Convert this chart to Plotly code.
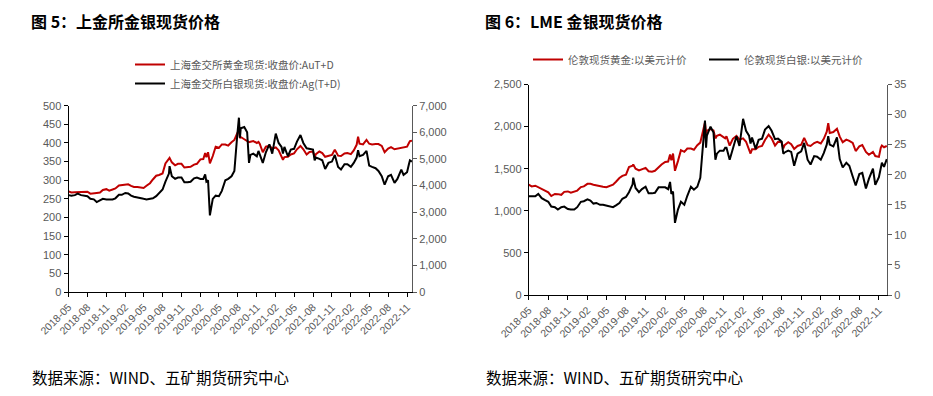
import plotly.graph_objects as go

# browser body has an 8px margin; the figure fills the rest of the 933x396 window
PAGE_W, PAGE_H, OFF = 933, 396, 8
W, H = PAGE_W - OFF, PAGE_H - OFF

dates = [
    "2018-05-01", "2018-05-15", "2018-06-01", "2018-06-15", "2018-07-01", "2018-07-15", "2018-08-01", "2018-08-15",
    "2018-09-01", "2018-09-15", "2018-10-01", "2018-10-15", "2018-11-01", "2018-11-15", "2018-12-01", "2018-12-15",
    "2019-01-01", "2019-01-15", "2019-02-01", "2019-02-15", "2019-03-01", "2019-03-15", "2019-04-01", "2019-04-15",
    "2019-05-01", "2019-05-15", "2019-06-01", "2019-06-15", "2019-07-01", "2019-07-15", "2019-08-01", "2019-08-15",
    "2019-09-01", "2019-09-04", "2019-09-15", "2019-10-01", "2019-10-15", "2019-11-01", "2019-11-15", "2019-12-01",
    "2019-12-15",
    "2020-01-01", "2020-01-15", "2020-02-01", "2020-02-15", "2020-02-24", "2020-03-01", "2020-03-09", "2020-03-18",
    "2020-04-01", "2020-04-15", "2020-05-01", "2020-05-15", "2020-06-01", "2020-06-15", "2020-07-01", "2020-07-15",
    "2020-07-28", "2020-08-06", "2020-08-11", "2020-08-15", "2020-09-01", "2020-09-15", "2020-09-24", "2020-10-01",
    "2020-10-15", "2020-11-01", "2020-11-09", "2020-11-15", "2020-11-30", "2020-12-15",
    "2021-01-01", "2021-01-15", "2021-02-01", "2021-02-15", "2021-03-01", "2021-03-08", "2021-03-15", "2021-04-01",
    "2021-04-15", "2021-05-01", "2021-05-15", "2021-06-01", "2021-06-15", "2021-07-01", "2021-07-15", "2021-08-01",
    "2021-08-09", "2021-08-15", "2021-09-01", "2021-09-15", "2021-09-29", "2021-10-15", "2021-11-01", "2021-11-15",
    "2021-12-01", "2021-12-15",
    "2022-01-01", "2022-01-15", "2022-02-01", "2022-02-15", "2022-03-01", "2022-03-08", "2022-03-15", "2022-04-01",
    "2022-04-18", "2022-05-01", "2022-05-15", "2022-06-01", "2022-06-15", "2022-07-01", "2022-07-15", "2022-08-01",
    "2022-08-15", "2022-09-01", "2022-09-15", "2022-10-04", "2022-10-15", "2022-11-01", "2022-11-10", "2022-11-15",
    "2022-11-25",
]
dates_lme = dates + ["2022-12-08"]

# 上海金交所黄金现货:收盘价:AuT+D (元/克)
sge_gold = [
    270, 267, 268, 268, 267, 268, 269, 264, 266, 266, 267, 274, 276, 272, 275, 278,
    286, 287, 290, 289, 285, 282, 282, 280, 279, 285, 292, 302, 312, 314, 318, 345, 356, 360, 348, 340, 344, 344, 334, 335, 336,
    342, 344, 356, 357, 373, 362, 375, 345, 365, 390, 387, 396, 396, 393, 402, 408, 425, 435, 413, 416, 410, 406, 402, 403,
    405, 400, 403, 398, 375, 390,
    392, 385, 388, 380, 362, 355, 362, 363, 369, 372, 383, 392, 383, 369, 376, 377, 362, 370, 377, 373, 363, 366, 368, 382,
    366, 365,
    372, 373, 370, 380, 395, 417, 398, 396, 408, 398, 396, 397, 397, 392, 375, 385, 389, 383, 385, 387, 388, 390, 400, 405,
    406,
]
# 上海金交所白银现货:收盘价:Ag(T+D) (元/千克)
sge_silver = [
    3640, 3620, 3640, 3700, 3640, 3620, 3600, 3500, 3480, 3380, 3450, 3500, 3480, 3470, 3480, 3520,
    3650, 3650, 3720, 3700, 3620, 3580, 3560, 3540, 3500, 3480, 3490, 3520, 3600, 3700, 3850, 4150, 4450, 4730, 4350, 4250,
    4300, 4300, 4120, 4120, 4140,
    4270, 4300, 4250, 4250, 4420, 4150, 4200, 2880, 3500, 3620, 3600, 3800, 4200, 4250, 4350, 4550, 5800, 6550, 5800, 6150,
    6200, 6000, 4850, 5150, 5200, 5100, 5300, 5150, 4850, 5250,
    5550, 5200, 5950, 5600, 5450, 5200, 5450, 5100, 5350, 5380, 5650, 5900, 5600, 5400, 5380, 5350, 4950, 5050, 5000, 4950,
    4620, 4850, 4900, 5150, 4700, 4600,
    4800, 4800, 4700, 4850, 5050, 5330, 5100, 5150, 5300, 4750, 4700, 4650, 4550, 4350, 4030, 4350, 4400, 4100, 4250, 4600,
    4400, 4500, 4800, 4950, 4900,
]
# 伦敦现货黄金:以美元计价
lme_gold = [
    1310, 1290, 1298, 1280, 1250, 1240, 1220, 1175, 1200, 1198, 1190, 1225, 1230, 1215, 1225, 1240,
    1282, 1290, 1320, 1320, 1310, 1300, 1295, 1285, 1280, 1295, 1310, 1345, 1390, 1415, 1430, 1520, 1535, 1550, 1500, 1480,
    1490, 1510, 1470, 1465, 1475,
    1520, 1550, 1580, 1585, 1670, 1600, 1680, 1475, 1590, 1720, 1700, 1740, 1740, 1725, 1780, 1810, 1950, 2050, 1920, 1950,
    1970, 1955, 1860, 1890, 1905, 1880, 1860, 1885, 1775, 1855,
    1890, 1845, 1860, 1820, 1730, 1680, 1730, 1730, 1760, 1770, 1840, 1905, 1860, 1775, 1820, 1815, 1740, 1780, 1815, 1790,
    1735, 1770, 1785, 1865, 1780, 1770,
    1805, 1820, 1800, 1855, 1940, 2040, 1925, 1935, 1975, 1880, 1815, 1845, 1830, 1805, 1710, 1765, 1780, 1700, 1665, 1700,
    1650, 1640, 1750, 1775, 1755,
    1770,
]
# 伦敦现货白银:以美元计价
lme_silver = [
    16.4, 16.4, 16.4, 16.8, 16.1, 15.8, 15.5, 14.7, 14.6, 14.2, 14.6, 14.7, 14.3, 14.2, 14.2, 14.6,
    15.5, 15.6, 15.9, 15.7, 15.2, 15.3, 15.0, 15.0, 14.9, 14.7, 14.6, 14.9, 15.3, 16.0, 16.3, 17.1, 18.4, 19.5, 17.8, 17.1,
    17.6, 18.0, 16.9, 16.9, 17.0,
    17.9, 17.9, 17.9, 17.6, 18.8, 16.8, 17.2, 12.0, 14.2, 15.5, 15.0, 16.5, 18.0, 17.5, 18.0, 19.5, 24.5, 29.0, 24.5, 26.5,
    28.0, 27.0, 22.5, 23.5, 24.0, 24.0, 24.5, 24.5, 22.5, 24.5,
    26.4, 24.8, 29.3, 27.3, 26.5, 25.2, 26.2, 24.3, 25.8, 26.0, 27.5, 28.1, 27.3, 25.9, 26.0, 25.5, 23.5, 23.7, 24.0, 23.8,
    21.5, 23.5, 23.9, 25.3, 22.5, 21.7,
    23.1, 23.0, 22.5, 23.6, 25.0, 26.4, 25.0, 24.7, 26.2, 22.6, 21.2, 22.0, 21.5, 19.7, 18.2, 20.1, 20.3, 17.7, 19.3, 21.0,
    18.3, 19.6, 21.5, 22.0, 21.3,
    22.6,
]

assert len(sge_gold) == len(dates) and len(sge_silver) == len(dates)
assert len(lme_gold) == len(dates_lme) and len(lme_silver) == len(dates_lme)

names = {
    "sge_gold": "上海金交所黄金现货:收盘价:AuT+D",
    "sge_silver": "上海金交所白银现货:收盘价:Ag(T+D)",
    "lme_gold": "伦敦现货黄金:以美元计价",
    "lme_silver": "伦敦现货白银:以美元计价",
}
titles = ["图 5：上金所金银现货价格", "图 6：LME 金银现货价格"]
source = "数据来源：WIND、五矿期货研究中心"

RED = "#C00000"
BLACK = "#000000"
GRAY = "#595959"
CJK = "Noto Sans CJK SC, Noto Sans, sans-serif"
NUM = "Liberation Sans Narrow, Liberation Sans, Arial, sans-serif"


def px(x):
    """page pixel x -> paper fraction"""
    return (x - OFF) / W


def py(y):
    """page pixel y -> paper fraction"""
    return 1 - (y - OFF) / H


fig = go.Figure()
fig.add_trace(go.Scatter(x=dates, y=sge_gold, name=names["sge_gold"], mode="lines",
                         line=dict(color=RED, width=2), xaxis="x", yaxis="y", legend="legend"))
fig.add_trace(go.Scatter(x=dates, y=sge_silver, name=names["sge_silver"], mode="lines",
                         line=dict(color=BLACK, width=2), xaxis="x", yaxis="y2", legend="legend"))
fig.add_trace(go.Scatter(x=dates_lme, y=lme_gold, name=names["lme_gold"], mode="lines",
                         line=dict(color=RED, width=2), xaxis="x2", yaxis="y3", legend="legend2"))
fig.add_trace(go.Scatter(x=dates_lme, y=lme_silver, name=names["lme_silver"], mode="lines",
                         line=dict(color=BLACK, width=2), xaxis="x2", yaxis="y4", legend="legend2"))

xcommon = dict(type="date", tick0="2018-05-01", dtick="M3", tickformat="%Y-%m", tickangle=-45,
               showline=True, linecolor=BLACK, linewidth=1, ticks="outside", ticklen=4, tickcolor=BLACK,
               showgrid=False, zeroline=False, tickfont=dict(size=10.5, color=GRAY, family=NUM),
               fixedrange=True, automargin=False)
ycommon = dict(showline=True, linewidth=1, ticks="outside", ticklen=4, showgrid=False, zeroline=False,
               tickfont=dict(size=11, color=GRAY, family=NUM), tickformat=",", fixedrange=True,
               automargin=False)

L_dom_x = [px(68.5), px(412)]
L_dom_y = [py(292), py(105.7)]
R_dom_x = [px(528.7), px(887)]
R_dom_y = [py(295), py(84.5)]

fig.update_layout(
    width=W, height=H, margin=dict(l=0, r=0, t=0, b=0, autoexpand=False),
    paper_bgcolor="white", plot_bgcolor="white", hovermode=False,
    xaxis=dict(xcommon, domain=L_dom_x, anchor="y", range=["2018-05-01", "2022-11-25"]),
    yaxis=dict(ycommon, domain=L_dom_y, anchor="x", range=[0, 500], dtick=50, linecolor=BLACK, tickcolor=BLACK),
    yaxis2=dict(ycommon, overlaying="y", side="right", anchor="x", range=[0, 7000], dtick=1000,
                linecolor=GRAY, tickcolor=GRAY),
    xaxis2=dict(xcommon, domain=R_dom_x, anchor="y3", range=["2018-05-01", "2022-12-09"]),
    yaxis3=dict(ycommon, domain=R_dom_y, anchor="x2", range=[0, 2500], dtick=500, linecolor=BLACK, tickcolor=BLACK),
    yaxis4=dict(ycommon, overlaying="y3", side="right", anchor="x2", range=[0, 35], dtick=5,
                linecolor=GRAY, tickcolor=GRAY),
    legend=dict(x=px(130), y=py(50), xanchor="left", yanchor="top", orientation="v",
                font=dict(size=10.5, color=GRAY, family=CJK), bgcolor="rgba(0,0,0,0)", tracegroupgap=0,
                itemwidth=30),
    legend2=dict(x=px(528), y=py(45), xanchor="left", yanchor="top", orientation="h",
                 font=dict(size=10.5, color=GRAY, family=CJK), bgcolor="rgba(0,0,0,0)", itemwidth=30,
                 entrywidth=131),
    showlegend=True,
)

for xpos, t in zip([30, 484], titles):
    fig.add_annotation(x=px(xpos), y=1, xref="paper", yref="paper", xanchor="left", yanchor="top",
                       text=f"<b>{t}</b>", showarrow=False, borderpad=0,
                       font=dict(size=16, color=BLACK, family=CJK))
    fig.add_annotation(x=px(xpos), y=py(377), xref="paper", yref="paper", xanchor="left", yanchor="middle",
                       text=source, showarrow=False, font=dict(size=15.5, color=BLACK, family=CJK))

fig.write_html("out.html")
